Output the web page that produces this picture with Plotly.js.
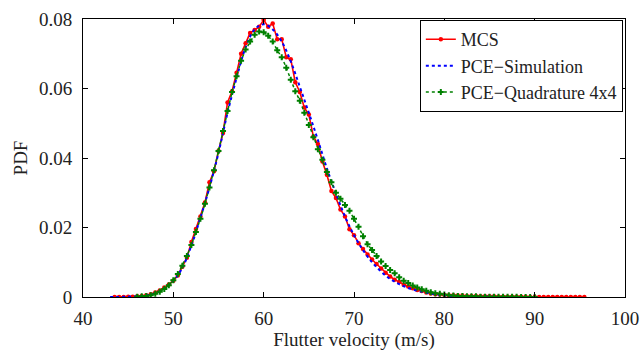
<!DOCTYPE html>
<html>
<head>
<meta charset="utf-8">
<script src="https://cdn.plot.ly/plotly-3.0.1.min.js"></script>
<style>html,body{margin:0;padding:0;background:#fff}#chart{width:640px;height:354px}</style>
</head>
<body>
<div id="chart"></div>
<script>
// MCS histogram-based PDF
const mcsX = [43.5,44,44.5,45,45.5,46,46.5,47,47.5,48,48.5,49,
  49.5,50,50.5,51,51.5,52,52.5,53,53.5,54,54.5,55,
  55.5,56,56.5,57,57.5,58,58.5,59,59.5,60,60.5,61,
  61.5,62,62.5,63,63.5,64,64.5,65,65.5,66,66.5,67,
  67.5,68,68.5,69,69.5,70,70.5,71,71.5,72,72.5,73,
  73.5,74,74.5,75,75.5,76,76.5,77,77.5,78,78.5,79,
  79.5,80,80.5,81,81.5,82,82.5,83,83.5,84,84.5,85,
  85.5,86,86.5,87,87.5,88,88.5,89,89.5,90,90.5,91,
  91.5,92,92.5,93,93.5,94,94.5,95,95.5];
const mcsY = [0,0,0,0.0001,0.0001,0.0002,0.0003,0.0005,0.0008,0.0013,0.0019,0.0027,
  0.0036,0.0047,0.0062,0.0087,0.0113,0.0158,0.0196,0.0232,0.0272,0.0330,0.0362,0.0420,
  0.0472,0.0560,0.0592,0.0645,0.0700,0.0730,0.0760,0.0768,0.0778,0.0797,0.0778,0.0787,
  0.0742,0.0742,0.0690,0.0684,0.0618,0.0590,0.0545,0.0525,0.0462,0.0440,0.0390,0.0352,
  0.0305,0.0285,0.0252,0.0232,0.0195,0.0178,0.0155,0.0138,0.0122,0.0108,0.0095,0.0082,
  0.0070,0.0059,0.0050,0.0043,0.0035,0.0030,0.0025,0.0020,0.0017,0.0013,0.0010,0.0008,
  0.0007,0.0006,0.0005,0.0005,0.0004,0.0004,0.0003,0.0003,0.0003,0.0002,0.0002,0.0002,
  0.0002,0.0001,0.0001,0.0001,0.0001,0.0001,0.0001,0.0001,0,0,0,0,
  0,0,0,0,0,0,0,0,0];

// PCE - Simulation
const simX = [43,44,45,46,47,48,49,50,51,52,53,54,55,56,57,58,59,60,61,62,63,64,65,66,
  67,68,69,70,71,72,73,74,75,76,77,78,79,80,81,82,83,84,85,86,87,88];
const simY = [0,0,0.0001,0.0002,0.0004,0.0011,0.0025,0.0046,0.0084,0.0148,0.0228,0.0315,
  0.0415,0.0530,0.0630,0.0718,0.0770,0.0785,0.0770,0.0735,0.0678,0.0605,0.0530,0.0452,
  0.0370,0.0298,0.0232,0.0178,0.0135,0.0100,0.0073,0.0052,0.0037,0.0026,0.0018,0.0012,
  0.0008,0.0005,0.0003,0.0002,0.0001,0.0001,0.0001,0,0,0];

// PCE - Quadrature 4x4
const quadX = [46,46.5,47,47.5,48,48.5,49,49.5,50,50.5,51,51.5,
  52,52.5,53,53.5,54,54.5,55,55.5,56,56.5,57,57.5,
  58,58.5,59,59.5,60,60.5,61,61.5,62,62.5,63,63.5,
  64,64.5,65,65.5,66,66.5,67,67.5,68,68.5,69,69.5,
  70,70.5,71,71.5,72,72.5,73,73.5,74,74.5,75,75.5,
  76,76.5,77,77.5,78,78.5,79,79.5,80,80.5,81,81.5,
  82,82.5,83,83.5,84,84.5,85,85.5,86,86.5,87,87.5,
  88,88.5,89,89.5,90];
const quadY = [0.0001,0.0002,0.0003,0.0005,0.0009,0.0015,0.0023,0.0034,0.0048,0.0066,0.0090,0.0118,
  0.0150,0.0187,0.0225,0.0268,0.0315,0.0365,0.0420,0.0478,0.0535,0.0590,0.0635,0.0680,
  0.0712,0.0735,0.0755,0.0764,0.0762,0.0752,0.0735,0.0710,0.0690,0.0660,0.0625,0.0592,
  0.0565,0.0530,0.0495,0.0460,0.0425,0.0395,0.0360,0.0330,0.0300,0.0283,0.0265,0.0248,
  0.0225,0.0202,0.0175,0.0152,0.0135,0.0118,0.0102,0.0089,0.0078,0.0068,0.0057,0.0047,
  0.0040,0.0033,0.0027,0.0022,0.0018,0.0014,0.0011,0.0009,0.0007,0.0005,0.0004,0.0003,
  0.0003,0.0002,0.0002,0.0002,0.0001,0.0001,0.0001,0.0001,0.0001,0.0001,0.0001,0.0001,
  0.0001,0,0,0,0];

const seriesNames = ['MCS', 'PCE\u2212Simulation', 'PCE\u2212Quadrature 4x4'];
const xTicks = [40,50,60,70,80,90,100];
const yTicks = [0,0.02,0.04,0.06,0.08];
const yTickText = ['0','0.02','0.04','0.06','0.08'];

const FONT = 'Liberation Serif, Times New Roman, serif';

const traces = [
  {x: mcsX, y: mcsY, name: seriesNames[0], type: 'scatter', mode: 'lines+markers',
   line: {color: '#ff0000', width: 1.6},
   marker: {symbol: 'circle', size: 4.5, color: '#ff0000'}},
  {x: simX, y: simY, name: seriesNames[1], type: 'scatter', mode: 'lines',
   line: {color: '#0000ff', width: 2, dash: 'dot', shape: 'spline'}},
  {x: quadX, y: quadY, name: seriesNames[2], type: 'scatter', mode: 'lines+markers',
   line: {color: '#008000', width: 1.5, dash: 'dot'},
   marker: {symbol: 'cross', size: 5, color: '#008000'}}
];

const axisCommon = {
  showline: true, linecolor: '#000', linewidth: 1, mirror: 'ticks',
  ticks: 'inside', ticklen: 5, tickcolor: '#000', tickwidth: 1,
  showgrid: false, zeroline: false,
  tickfont: {family: FONT, size: 19, color: '#222'}
};

const layout = {
  width: 640, height: 354,
  margin: {l: 83, r: 15, t: 19, b: 57},
  paper_bgcolor: '#fff', plot_bgcolor: '#fff',
  font: {family: FONT, size: 19, color: '#222'},
  xaxis: Object.assign({}, axisCommon, {
    range: [40, 100], tickvals: xTicks, ticktext: xTicks.map(String),
    ticklabelstandoff: 4,
    title: {text: 'Flutter velocity (m/s)', font: {family: FONT, size: 19, color: '#222'}, standoff: 2}
  }),
  yaxis: Object.assign({}, axisCommon, {
    range: [0, 0.08], tickvals: yTicks, ticktext: yTickText,
    ticklabelstandoff: 6,
    title: {text: 'PDF', font: {family: FONT, size: 19, color: '#222'}, standoff: 6}
  }),
  showlegend: true,
  legend: {
    x: 0.996, y: 0.996, xanchor: 'right', yanchor: 'top',
    bgcolor: '#fff', bordercolor: '#000', borderwidth: 1,
    font: {family: FONT, size: 18, color: '#222'},
    itemwidth: 30, tracegroupgap: 0
  }
};

Plotly.newPlot('chart', traces, layout, {displayModeBar: false, staticPlot: true});
</script>
</body>
</html>
